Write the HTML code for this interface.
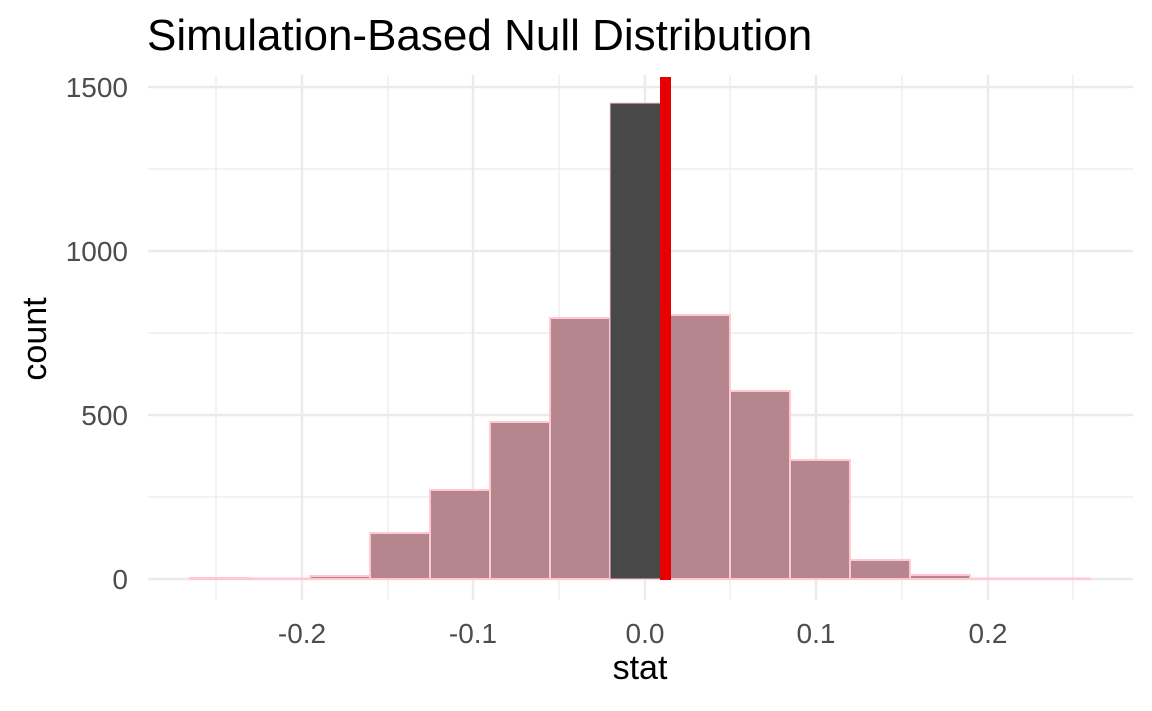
<!DOCTYPE html>
<html><head><style>body{margin:0;background:#fff}svg{display:block}</style></head><body>
<svg width="1152" height="711" xmlns="http://www.w3.org/2000/svg" font-family="Liberation Sans, sans-serif">
<rect width="1152" height="711" fill="#fff"/>
<g stroke="#ebebeb">
<g stroke-width="1.2">
<line x1="148" x2="1133" y1="169" y2="169"/><line x1="148" x2="1133" y1="333" y2="333"/><line x1="148" x2="1133" y1="497" y2="497"/>
<line x1="216" x2="216" y1="75" y2="600"/><line x1="388" x2="388" y1="75" y2="600"/><line x1="559" x2="559" y1="75" y2="600"/><line x1="730" x2="730" y1="75" y2="600"/><line x1="902" x2="902" y1="75" y2="600"/><line x1="1073" x2="1073" y1="75" y2="600"/>
</g>
<g stroke-width="2.4">
<line x1="148" x2="1133" y1="87" y2="87"/><line x1="148" x2="1133" y1="251" y2="251"/><line x1="148" x2="1133" y1="415" y2="415"/><line x1="148" x2="1133" y1="579" y2="579"/>
<line x1="302" x2="302" y1="75" y2="600"/><line x1="473" x2="473" y1="75" y2="600"/><line x1="645" x2="645" y1="75" y2="600"/><line x1="816" x2="816" y1="75" y2="600"/><line x1="988" x2="988" y1="75" y2="600"/>
</g>
</g>
<g fill="#b5868e" stroke="#ffc8d2" stroke-width="2">
<rect x="190" y="578" width="60" height="1"/>
<rect x="250" y="578.5" width="60" height="0.5"/>
<rect x="310" y="576" width="60" height="3"/>
<rect x="370" y="533" width="60" height="46"/>
<rect x="430" y="490" width="60" height="89"/>
<rect x="490" y="422" width="60" height="157"/>
<rect x="550" y="318" width="60" height="261"/>
<rect x="670" y="315" width="60" height="264"/>
<rect x="730" y="391" width="60" height="188"/>
<rect x="790" y="460" width="60" height="119"/>
<rect x="850" y="560" width="60" height="19"/>
<rect x="910" y="575" width="60" height="4"/>
<rect x="970" y="578.5" width="60" height="0.5"/>
<rect x="1030" y="578.5" width="60" height="0.5"/>
</g>
<rect x="610" y="103" width="55" height="476" fill="#484848" stroke="#ffc8d2" stroke-width="1"/>
<rect x="660" y="77" width="11" height="503" fill="#e60000"/>
<g font-size="28" fill="#4d4d4d" text-anchor="end">
<text x="128" y="97">1500</text><text x="128" y="261">1000</text><text x="128" y="425">500</text><text x="128" y="589">0</text>
</g>
<g font-size="28" fill="#4d4d4d" text-anchor="middle">
<text x="302" y="643">-0.2</text><text x="473" y="643">-0.1</text><text x="645" y="643">0.0</text><text x="816" y="643">0.1</text><text x="988" y="643">0.2</text>
</g>
<text x="640" y="679" font-size="34" text-anchor="middle" fill="#000">stat</text>
<text transform="translate(46,339) rotate(-90)" font-size="34" text-anchor="middle" fill="#000">count</text>
<text x="147" y="50" font-size="44" fill="#000">Simulation-Based Null Distribution</text>
</svg>
</body></html>
